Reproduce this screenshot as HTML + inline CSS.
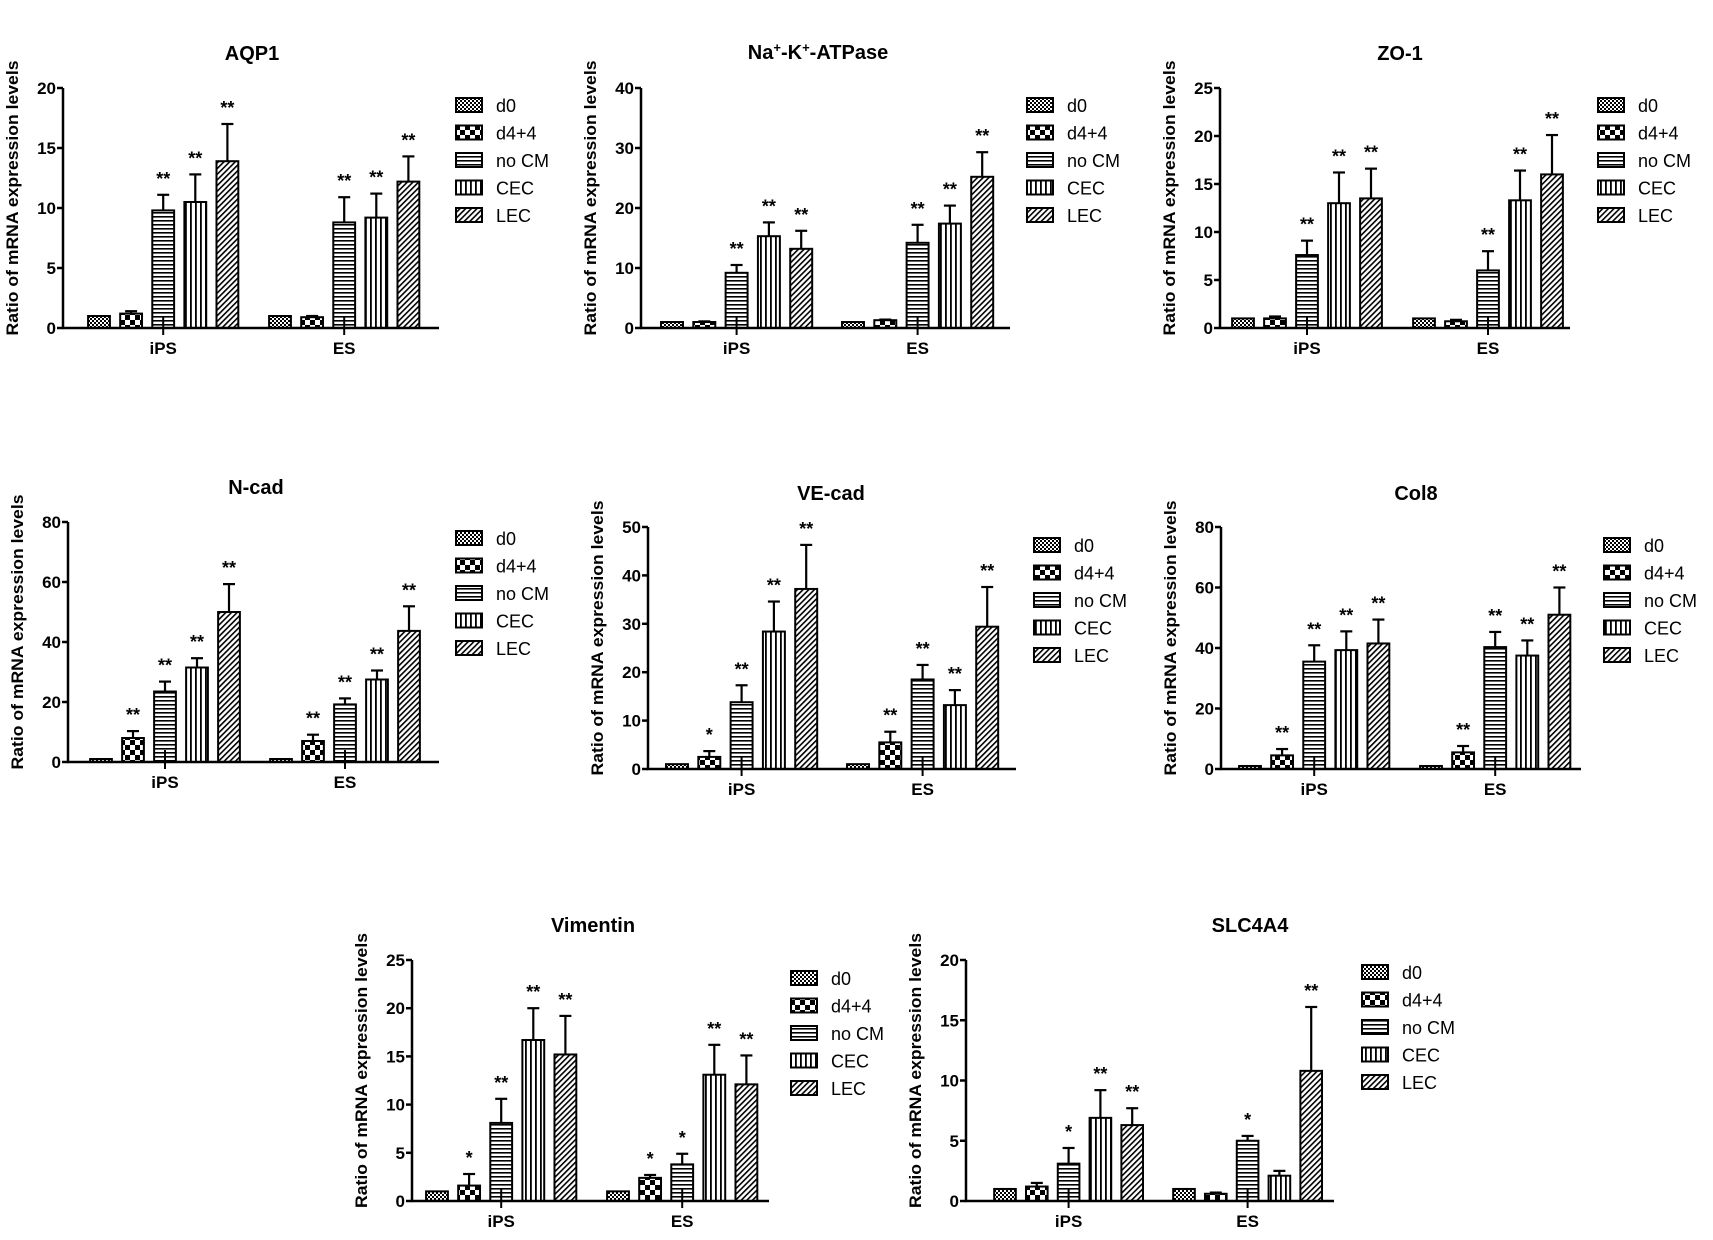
<!DOCTYPE html>
<html><head><meta charset="utf-8">
<style>
html,body{margin:0;padding:0;background:#fff;}
svg{display:block;font-family:"Liberation Sans",Arial,sans-serif;}
</style></head>
<body>
<svg id="fig" width="1713" height="1240" viewBox="0 0 1713 1240" xmlns="http://www.w3.org/2000/svg">
<defs>
<pattern id="p-d0" width="4" height="4" patternUnits="userSpaceOnUse"><rect width="4" height="4" fill="#fff"/><rect width="2" height="2" fill="#000"/><rect x="2" y="2" width="2" height="2" fill="#000"/></pattern>
<pattern id="p-d44" width="10" height="10" patternUnits="userSpaceOnUse"><rect width="10" height="10" fill="#fff"/><rect width="5" height="5" fill="#000"/><rect x="5" y="5" width="5" height="5" fill="#000"/></pattern>
<pattern id="p-nocm" width="4" height="4" patternUnits="userSpaceOnUse"><rect width="4" height="4" fill="#fff"/><rect y="0" width="4" height="1.6" fill="#000"/></pattern>
<pattern id="p-cec" width="5" height="5" patternUnits="userSpaceOnUse"><rect width="5" height="5" fill="#fff"/><rect x="0" width="1.8" height="5" fill="#000"/></pattern>
<pattern id="p-lec" width="4" height="4" patternUnits="userSpaceOnUse" patternTransform="rotate(45)"><rect width="4" height="4" fill="#fff"/><rect width="1.6" height="4" fill="#000"/></pattern>
</defs>
</svg>
<script>
// ---- data ----
const groups = ['iPS','ES'];
const series = ['d0','d4+4','no CM','CEC','LEC'];
const aqp1Ips = [1,1.2,9.8,10.5,13.9];       const aqp1IpsErr = [0,0.2,1.3,2.3,3.1];
const aqp1Es  = [1,0.9,8.8,9.2,12.2];        const aqp1EsErr  = [0,0.1,2.1,2.0,2.1];
const aqp1Stars = [['','','**','**','**'],['','','**','**','**']];
const aqp1Ticks = [0,5,10,15,20];
const naIps = [1,1,9.2,15.3,13.2];           const naIpsErr = [0,0.1,1.3,2.3,3.0];
const naEs  = [1,1.3,14.2,17.4,25.2];        const naEsErr  = [0,0.1,3.0,3.0,4.1];
const naStars = [['','','**','**','**'],['','','**','**','**']];
const naTicks = [0,10,20,30,40];
const zoIps = [1,1,7.6,13,13.5];             const zoIpsErr = [0,0.2,1.5,3.2,3.1];
const zoEs  = [1,0.7,6,13.3,16];             const zoEsErr  = [0,0.15,2.0,3.1,4.1];
const zoStars = [['','','**','**','**'],['','','**','**','**']];
const zoTicks = [0,5,10,15,20,25];
const ncadIps = [1,8,23.5,31.5,50];          const ncadIpsErr = [0,2.3,3.3,3.1,9.3];
const ncadEs  = [1,7,19.2,27.5,43.7];        const ncadEsErr  = [0,2.1,2.0,3.0,8.2];
const ncadStars = [['','**','**','**','**'],['','**','**','**','**']];
const ncadTicks = [0,20,40,60,80];
const vecadIps = [1,2.5,13.8,28.4,37.2];     const vecadIpsErr = [0,1.2,3.5,6.2,9.1];
const vecadEs  = [1,5.5,18.5,13.2,29.4];     const vecadEsErr  = [0,2.2,3.0,3.1,8.2];
const vecadStars = [['','*','**','**','**'],['','**','**','**','**']];
const vecadTicks = [0,10,20,30,40,50];
const col8Ips = [1,4.5,35.5,39.3,41.5];      const col8IpsErr = [0,2.1,5.4,6.2,7.9];
const col8Es  = [1,5.5,40.3,37.5,51];        const col8EsErr  = [0,2.1,5.0,5.0,9.0];
const col8Stars = [['','**','**','**','**'],['','**','**','**','**']];
const col8Ticks = [0,20,40,60,80];
const vimIps = [1,1.6,8.1,16.7,15.2];        const vimIpsErr = [0,1.2,2.5,3.3,4.0];
const vimEs  = [1,2.4,3.8,13.1,12.1];        const vimEsErr  = [0,0.3,1.1,3.1,3.0];
const vimStars = [['','*','**','**','**'],['','*','*','**','**']];
const vimTicks = [0,5,10,15,20,25];
const slcIps = [1,1.2,3.1,6.9,6.3];          const slcIpsErr = [0,0.3,1.3,2.3,1.4];
const slcEs  = [1,0.6,5,2.1,10.8];           const slcEsErr  = [0,0.1,0.4,0.4,5.3];
const slcStars = [['','','*','**','**'],['','','*','','**']];
const slcTicks = [0,5,10,15,20];

// ---- layout ----
const panels = [
 {id:'aqp1',title:'AQP1',ips:aqp1Ips,ipsE:aqp1IpsErr,es:aqp1Es,esE:aqp1EsErr,stars:aqp1Stars,ticks:aqp1Ticks,ax:63,yt:88,yb:328,xe:439,x0:99,s:32.1,g:181,tx:252,ty:60,lx:456,ly:105},
 {id:'na-k-atpase',title:'NA',ips:naIps,ipsE:naIpsErr,es:naEs,esE:naEsErr,stars:naStars,ticks:naTicks,ax:641,yt:88,yb:328,xe:1010,x0:672,s:32.3,g:181,tx:818,ty:59,lx:1027,ly:105},
 {id:'zo-1',title:'ZO-1',ips:zoIps,ipsE:zoIpsErr,es:zoEs,esE:zoEsErr,stars:zoStars,ticks:zoTicks,ax:1220,yt:88,yb:328,xe:1570,x0:1243,s:32,g:181,tx:1400,ty:60,lx:1598,ly:105},
 {id:'n-cad',title:'N-cad',ips:ncadIps,ipsE:ncadIpsErr,es:ncadEs,esE:ncadEsErr,stars:ncadStars,ticks:ncadTicks,ax:68,yt:522,yb:762,xe:439,x0:101,s:32,g:180,tx:256,ty:494,lx:456,ly:538},
 {id:'ve-cad',title:'VE-cad',ips:vecadIps,ipsE:vecadIpsErr,es:vecadEs,esE:vecadEsErr,stars:vecadStars,ticks:vecadTicks,ax:648,yt:527,yb:769,xe:1016,x0:677,s:32.3,g:181,tx:831,ty:500,lx:1034,ly:545},
 {id:'col8',title:'Col8',ips:col8Ips,ipsE:col8IpsErr,es:col8Es,esE:col8EsErr,stars:col8Stars,ticks:col8Ticks,ax:1221,yt:527,yb:769,xe:1581,x0:1250,s:32.1,g:181,tx:1416,ty:500,lx:1604,ly:545},
 {id:'vimentin',title:'Vimentin',ips:vimIps,ipsE:vimIpsErr,es:vimEs,esE:vimEsErr,stars:vimStars,ticks:vimTicks,ax:412,yt:960,yb:1201,xe:769,x0:437,s:32.1,g:181,tx:593,ty:932,lx:791,ly:978},
 {id:'slc4a4',title:'SLC4A4',ips:slcIps,ipsE:slcIpsErr,es:slcEs,esE:slcEsErr,stars:slcStars,ticks:slcTicks,ax:966,yt:960,yb:1201,xe:1334,x0:1005,s:31.8,g:179,tx:1250,ty:932,lx:1362,ly:972}
];
const fills = ['url(#p-d0)','url(#p-d44)','url(#p-nocm)','url(#p-cec)','url(#p-lec)'];
const NS='http://www.w3.org/2000/svg';
const svg=document.getElementById('fig');
function mk(tag,attrs,parent,txt){const e=document.createElementNS(NS,tag);for(const k in attrs)e.setAttribute(k,attrs[k]);if(txt!==undefined)e.textContent=txt;parent.appendChild(e);return e;}

panels.forEach(p=>{
  const g=mk('g',{},svg);
  
  
  const max=p.ticks[p.ticks.length-1];
  const y=v=>p.yb-(v/max)*(p.yb-p.yt);
  const bw=p.s*0.68;
  let t;
  if(p.title==='NA'){
    t=mk('text',{x:p.tx,y:p.ty,'text-anchor':'middle','font-size':20,'font-weight':'bold'},g);
    mk('tspan',{},t,'Na');mk('tspan',{dy:-7,'font-size':13},t,'+');mk('tspan',{dy:7},t,'-K');
    mk('tspan',{dy:-7,'font-size':13},t,'+');mk('tspan',{dy:7},t,'-ATPase');
  } else t=mk('text',{x:p.tx,y:p.ty,'text-anchor':'middle','font-size':20,'font-weight':'bold'},g,p.title);
  
  
  const ymid=(p.yt+p.yb)/2-10;
  const yt=mk('text',{x:0,y:0,transform:`translate(${p.ax-45},${ymid}) rotate(-90)`,'text-anchor':'middle','font-size':17,'font-weight':'bold',textLength:275,lengthAdjust:'spacingAndGlyphs'},g,'Ratio of mRNA expression levels');
  
  
  [p.ips,p.es].forEach((vals,gi)=>{
    const errs=gi===0?p.ipsE:p.esE;
    vals.forEach((v,i)=>{
      const cx=p.x0+gi*p.g+i*p.s;
      const top=y(v);
      const r=mk('rect',{x:cx-bw/2,y:top,width:bw,height:p.yb-top,fill:fills[i],stroke:'#000','stroke-width':2},g);
      
      
      const et=y(v+errs[i]);
      if(errs[i]>0){
        mk('line',{x1:cx,y1:top,x2:cx,y2:et,stroke:'#000','stroke-width':2.2},g);
        mk('line',{x1:cx-6,y1:et,x2:cx+6,y2:et,stroke:'#000','stroke-width':2.2},g);
      }
      const st=p.stars[gi][i];
      if(st){
        const s=mk('text',{x:cx,y:et-10,'text-anchor':'middle','font-size':18,'font-weight':'bold'},g,st);
        
        
      }
    });
    const gc=p.x0+gi*p.g+2*p.s;
    mk('line',{x1:gc,y1:p.yb-12,x2:gc,y2:p.yb+7,stroke:'#000','stroke-width':2},g);
    const gl=mk('text',{x:gc,y:p.yb+26,'text-anchor':'middle','font-size':17,'font-weight':'bold'},g,groups[gi]);
    
    
  });
  mk('line',{x1:p.ax,y1:p.yt,x2:p.ax,y2:p.yb+1,stroke:'#000','stroke-width':2.5},g);
  mk('line',{x1:p.ax-1,y1:p.yb,x2:p.xe,y2:p.yb,stroke:'#000','stroke-width':2.5},g);
  p.ticks.forEach(tv=>{
    const ty=y(tv);
    mk('line',{x1:p.ax-6,y1:ty,x2:p.ax,y2:ty,stroke:'#000','stroke-width':2.5},g);
    const tl=mk('text',{x:p.ax-7,y:ty+6,'text-anchor':'end','font-size':17,'font-weight':'bold'},g,String(tv));
    
    
  });
  series.forEach((s,i)=>{
    const ly=p.ly+i*27.5;
    const lg=mk('g',{},g);
    
    
    mk('rect',{x:p.lx,y:ly-7,width:26,height:14,fill:fills[i],stroke:'#000','stroke-width':2},lg);
    mk('text',{x:p.lx+40,y:ly+7,'font-size':18},lg,s);
  });
});
</script>
</body></html>
